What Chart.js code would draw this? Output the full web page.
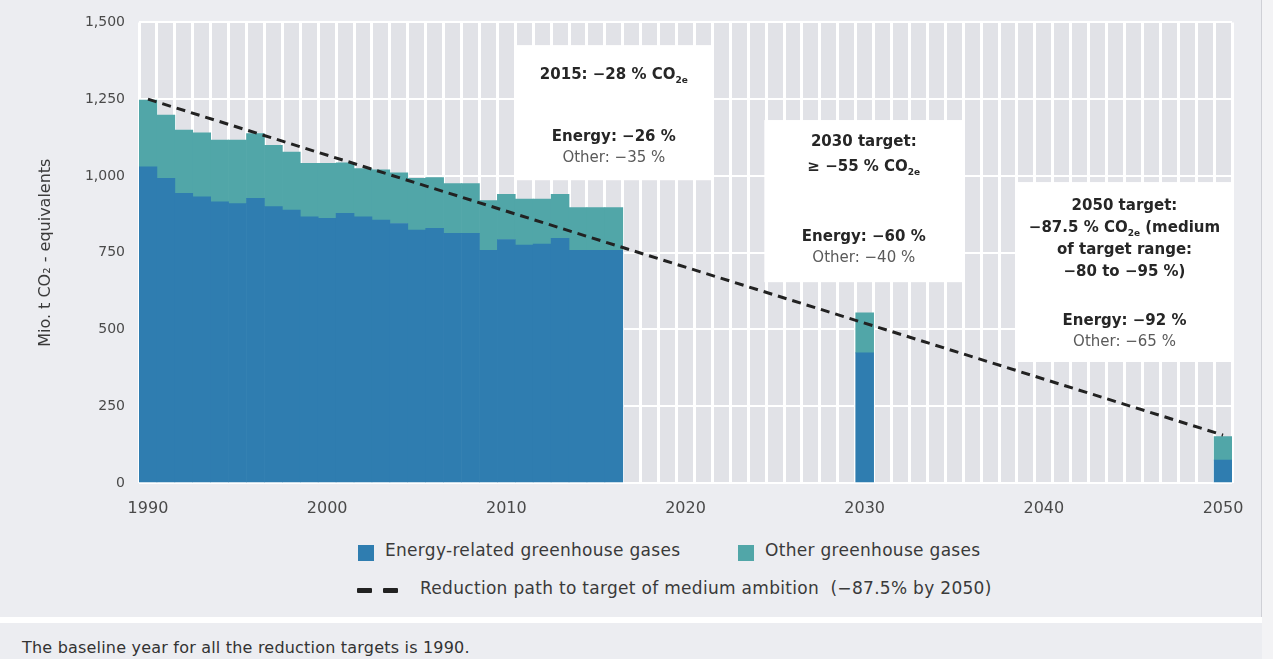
<!DOCTYPE html>
<html>
<head>
<meta charset="utf-8">
<script src="https://cdn.jsdelivr.net/npm/chart.js@4.4.0/dist/chart.umd.min.js"></script>
<style>
body { margin: 0; background: #ecedf1; font-family: "DejaVu Sans", sans-serif; }
.wrap { position: relative; width: 1273px; height: 659px; overflow: hidden; }
.chartBox { position: absolute; left: 0; top: 0; width: 1273px; height: 530px; }
.edge { position: absolute; left: 1261px; top: 0; width: 1px; height: 617px; background: #cfd0d6; }
.edgeFill { position: absolute; left: 1262px; top: 0; width: 11px; height: 659px; background: #f3f3f5; }
.leg { position: absolute; font-size: 17px; letter-spacing: 0.3px; color: #3a3a3a; white-space: pre; }
.sw { position: absolute; width: 16px; height: 16px; }
.dash { position: absolute; height: 5px; width: 15px; background: #222; border-radius: 1px; }
.band { position: absolute; left: 0; top: 617px; width: 1262px; height: 6px; background: #fff; }
.note { position: absolute; left: 22px; top: 638px; font-size: 16px; letter-spacing: 0.2px; color: #333; }
</style>
</head>
<body>
<div class="wrap">
  <div class="chartBox"><canvas id="chart"></canvas></div>
  <div class="edge"></div>
  <div class="edgeFill"></div>
  <div id="legend"></div>
  <div class="band"></div>
  <div class="note">The baseline year for all the reduction targets is 1990.</div>
</div>
<script>
// categories
const years = []
for (let y = 1990; y <= 2050; y++) years.push(String(y))
const histYears = ['1990','1991','1992','1993','1994','1995','1996','1997','1998','1999','2000','2001','2002','2003','2004','2005','2006','2007','2008','2009','2010','2011','2012','2013','2014','2015','2016']
const targetYears = ['2030', '2050']

// series values (Mio. t CO2e)
const energyHist = [1030, 992, 943, 932, 916, 910, 927, 900, 889, 867, 862, 878, 867, 856, 845, 824, 829, 813, 813, 758, 793, 775, 778, 797, 758, 758, 758]
const otherHist = [217, 206, 206, 208, 201, 207, 211, 200, 189, 174, 179, 165, 157, 164, 165, 168, 166, 162, 162, 162, 147, 150, 147, 143, 139, 139, 139]
const energyTarget = [424, 75]
const otherTarget = [130, 76]
const pathYears = ['1990', '2050']
const pathValues = [1250, 156]

const yTicks = [0, 250, 500, 750, 1000, 1250, 1500]
const xTickLabels = ['1990', '2000', '2010', '2020', '2030', '2040', '2050']

const labelEnergy = 'Energy-related greenhouse gases'
const labelOther = 'Other greenhouse gases'
const labelPath = 'Reduction path to target of medium ambition  (\u221287.5% by 2050)'

const blue = '#2f7db0'
const teal = '#51a6a8'
const font = 'DejaVu Sans'

function series(hist, target) {
  return years.map(y => {
    let i = histYears.indexOf(y)
    if (i >= 0) return hist[i]
    i = targetYears.indexOf(y)
    if (i >= 0) return target[i]
    return null
  })
}

// text boxes: year-index range, value range, lines {t, bold, dy}
const notes = [
  { from: 20.5, to: 31.5, top: 1426, bottom: 986, lines: [
    { t: '2015: \u221228 % CO{2e}', bold: true, dy: 30 },
    { t: 'Energy: \u221226 %', bold: true, dy: 92 },
    { t: 'Other: \u221235 %', bold: false, dy: 113 } ] },
  { from: 34.4, to: 45.5, top: 1182, bottom: 654, lines: [
    { t: '2030 target:', bold: true, dy: 22 },
    { t: '\u2265 \u221255 % CO{2e}', bold: true, dy: 47 },
    { t: 'Energy: \u221260 %', bold: true, dy: 117 },
    { t: 'Other: \u221240 %', bold: false, dy: 138 } ] },
  { from: 48.5, to: 60.5, top: 980, bottom: 394, lines: [
    { t: '2050 target:', bold: true, dy: 24 },
    { t: '\u221287.5 % CO{2e} (medium', bold: true, dy: 46 },
    { t: 'of target range:', bold: true, dy: 68 },
    { t: '\u221280 to \u221295 %)', bold: true, dy: 90 },
    { t: 'Energy: \u221292 %', bold: true, dy: 139 },
    { t: 'Other: \u221265 %', bold: false, dy: 160 } ] }
]

function drawRich(ctx, text, cx, cy, bold) {
  const parts = text.split(/(\{[^}]*\})/).filter(p => p !== '')
  const main = (bold ? 'bold ' : '') + '15px "' + font + '"'
  const sub = (bold ? 'bold ' : '') + '9px "' + font + '"'
  let w = 0
  parts.forEach(p => {
    ctx.font = p[0] === '{' ? sub : main
    w += ctx.measureText(p[0] === '{' ? p.slice(1, -1) : p).width
  })
  let x = cx - w / 2
  ctx.textAlign = 'left'
  ctx.textBaseline = 'middle'
  parts.forEach(p => {
    const isSub = p[0] === '{'
    const s = isSub ? p.slice(1, -1) : p
    ctx.font = isSub ? sub : main
    ctx.fillText(s, x, isSub ? cy + 6 : cy)
    x += ctx.measureText(s).width
  })
}

const bgPlugin = {
  id: 'bg',
  beforeDraw(chart) {
    const { ctx, chartArea: a } = chart
    ctx.save()
    ctx.fillStyle = '#e1e2e7'
    ctx.fillRect(a.left, a.top, a.right - a.left, a.bottom - a.top)
    ctx.restore()
  },
  beforeDatasetsDraw(chart) {
    const { ctx, scales: { x, y } } = chart
    ctx.save()
    notes.forEach(n => {
      const l = x.getPixelForValue(n.from), r = x.getPixelForValue(n.to)
      const t = y.getPixelForValue(n.top), b = y.getPixelForValue(n.bottom)
      ctx.fillStyle = '#ffffff'
      ctx.fillRect(l, t, r - l, b - t)
      n.lines.forEach(line => {
        ctx.fillStyle = line.bold ? '#262626' : '#5a5a5a'
        drawRich(ctx, line.t, (l + r) / 2, t + line.dy, line.bold)
      })
    })
    ctx.restore()
  }
}

new Chart(document.getElementById('chart'), {
  type: 'bar',
  data: {
    labels: years,
    datasets: [
      { label: labelPath, type: 'line', data: pathYears.map((yr, i) => ({ x: yr, y: pathValues[i] })),
        borderColor: '#222', borderWidth: 3, borderDash: [9, 6], pointRadius: 0, fill: false, order: 0 },
      { label: labelEnergy, data: series(energyHist, energyTarget), backgroundColor: blue, stack: 's', order: 1 },
      { label: labelOther, data: series(otherHist, otherTarget), backgroundColor: teal, stack: 's', order: 1 }
    ]
  },
  options: {
    responsive: true,
    maintainAspectRatio: false,
    animation: false,
    layout: { padding: { left: 36, right: 41, top: 22, bottom: 0 } },
    datasets: { bar: { barPercentage: 1, categoryPercentage: 1 } },
    plugins: { legend: { display: false }, tooltip: { enabled: false } },
    scales: {
      x: {
        stacked: true,
        afterFit(s) { s.height = 47 },
        grid: { color: '#ffffff', lineWidth: 3, offset: true, drawTicks: false },
        border: { display: false },
        ticks: {
          autoSkip: false, maxRotation: 0, padding: 16,
          color: '#4a4a4a', font: { family: font, size: 16 },
          callback(v) { const l = this.getLabelForValue(v); return xTickLabels.includes(l) ? l : '' }
        }
      },
      y: {
        stacked: true,
        min: 0, max: 1500,
        afterFit(s) { s.width = 103 },
        afterBuildTicks(s) { s.ticks = yTicks.map(v => ({ value: v })) },
        grid: { color: '#ffffff', lineWidth: 2, drawTicks: false },
        border: { display: false },
        ticks: {
          padding: 14, color: '#4a4a4a', font: { family: font, size: 14 },
          callback(v) { return v.toLocaleString('en-US') }
        },
        title: { display: true, text: 'Mio. t CO\u2082 - equivalents', color: '#3a3a3a',
          font: { family: font, size: 16 }, padding: { top: 0, bottom: 0 } }
      }
    }
  },
  plugins: [bgPlugin]
})

// legend built from the same labels / colours
const legend = document.getElementById('legend')
legend.innerHTML =
  '<div class="sw" style="left:358px;top:545px;background:' + blue + '"></div>' +
  '<div class="leg" style="left:385px;top:540px">' + labelEnergy + '</div>' +
  '<div class="sw" style="left:738px;top:545px;background:' + teal + '"></div>' +
  '<div class="leg" style="left:765px;top:540px">' + labelOther + '</div>' +
  '<div class="dash" style="left:357px;top:588px"></div>' +
  '<div class="dash" style="left:383px;top:588px"></div>' +
  '<div class="leg" style="left:420px;top:578px">' + labelPath + '</div>'
</script>
</body>
</html>
